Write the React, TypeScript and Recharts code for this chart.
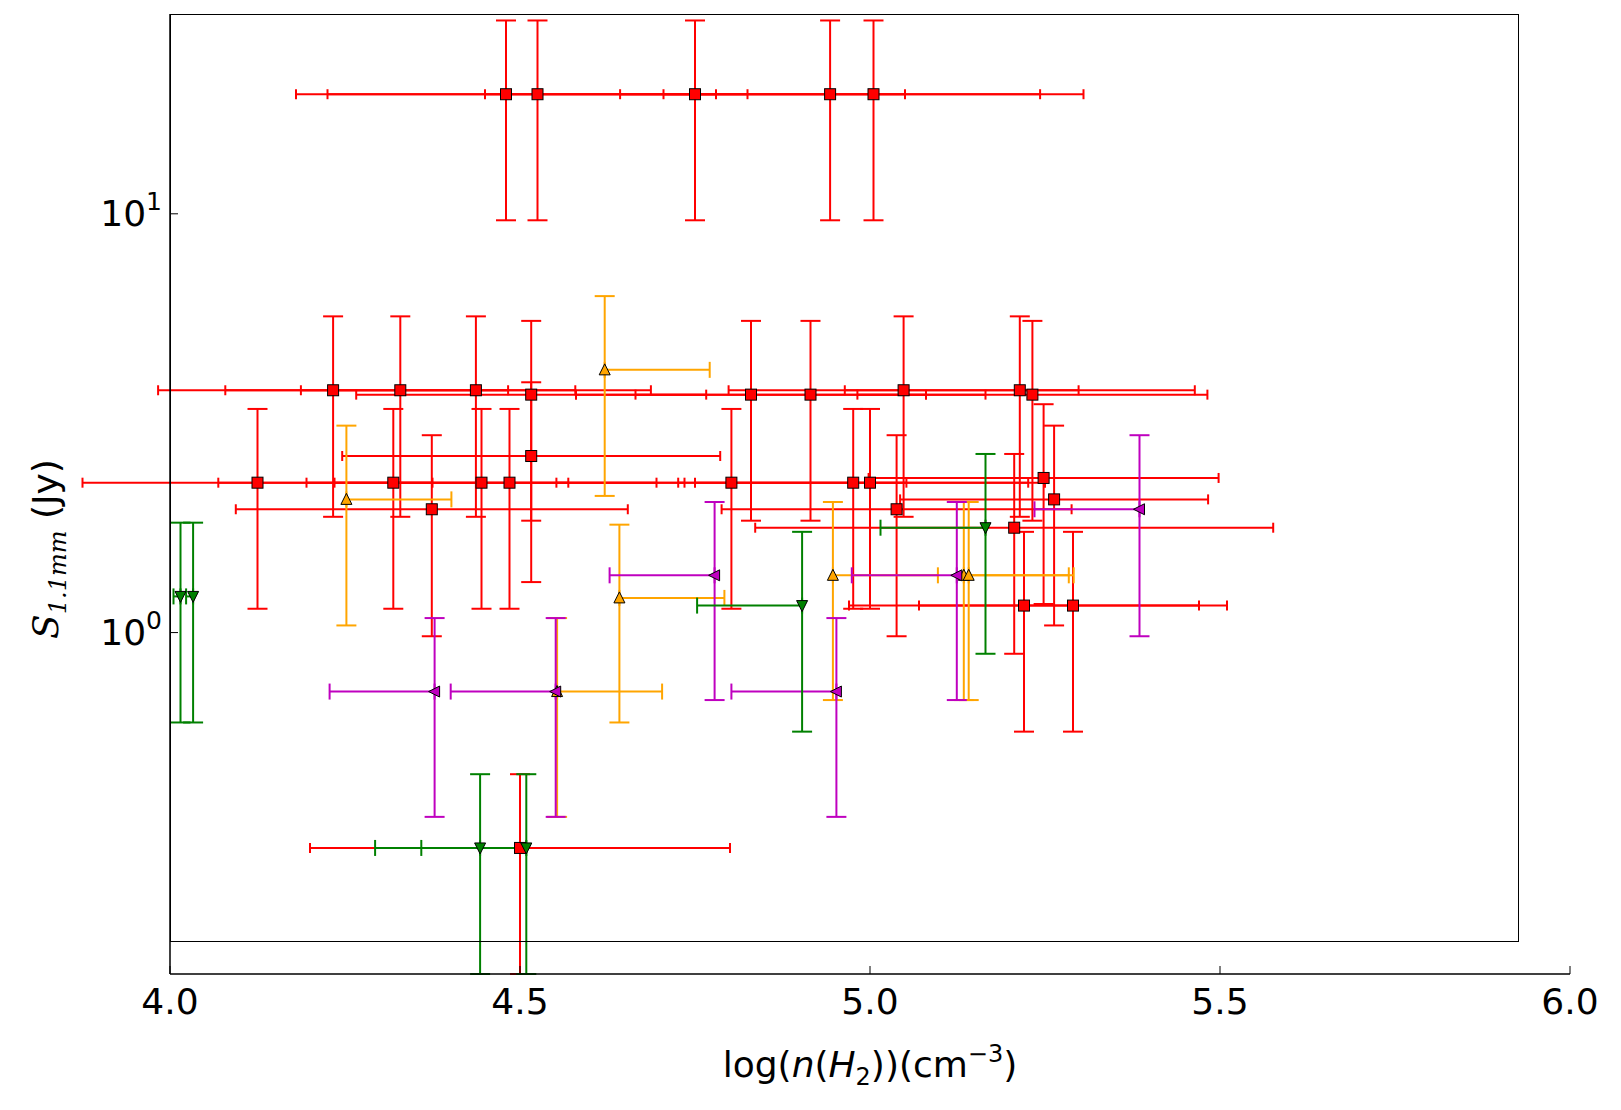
import React from "react";
import { ScatterChart, Scatter, XAxis, YAxis, ErrorBar, Label } from "recharts";

const redX = [4.48, 4.525, 4.75, 4.943, 5.005, 4.233, 4.329, 4.437, 4.516, 4.83, 4.915, 5.048, 5.214, 5.232, 4.125, 4.319, 4.445, 4.485, 4.802, 4.976, 5.0, 4.516, 4.374, 5.038, 5.248, 5.263, 5.206, 5.22, 5.29, 4.5];
const redY = [19.3, 19.3, 19.3, 19.3, 19.3, 3.79, 3.79, 3.79, 3.7, 3.7, 3.7, 3.79, 3.79, 3.7, 2.28, 2.28, 2.28, 2.28, 2.28, 2.28, 2.28, 2.64, 1.97, 1.97, 2.34, 2.08, 1.78, 1.16, 1.16, 0.306];
const redXErr = [0.3, 0.3, 0.3, 0.3, 0.3, 0.25, 0.25, 0.25, 0.25, 0.25, 0.25, 0.25, 0.25, 0.25, 0.25, 0.25, 0.25, 0.25, 0.25, 0.25, 0.25, 0.27, 0.28, 0.25, 0.25, 0.22, 0.37, 0.25, 0.22, 0.3];
const redYErr = [9.65, 9.65, 9.65, 9.65, 9.65, 1.9, 1.9, 1.9, 1.85, 1.85, 1.85, 1.9, 1.9, 1.85, 1.14, 1.14, 1.14, 1.14, 1.14, 1.14, 1.14, 1.32, 0.99, 0.99, 1.17, 1.04, 0.89, 0.58, 0.58, 0.153];

const orangeX = [4.621, 4.252, 4.642, 4.553, 4.947, 5.134, 5.141];
const orangeY = [4.24, 2.08, 1.21, 0.723, 1.37, 1.37, 1.37];
const orangeYErr = [2.12, 1.04, 0.6, 0.36, 0.68, 0.68, 0.68];
const orangeArrow = [0.15, 0.15, 0.15, 0.15, 0.15, 0.15, 0.15];

const magX = [4.378, 4.551, 4.778, 4.952, 5.124, 5.385];
const magY = [0.723, 0.723, 1.37, 0.723, 1.37, 1.97];
const magYErr = [0.36, 0.36, 0.68, 0.36, 0.68, 0.99];
const magArrow = [0.15, 0.15, 0.15, 0.15, 0.15, 0.15];

const greenX = [4.015, 4.033, 4.443, 4.509, 4.903, 5.165];
const greenY = [1.22, 1.22, 0.306, 0.306, 1.16, 1.78];
const greenYErr = [0.61, 0.61, 0.153, 0.153, 0.58, 0.89];
const greenArrow = [0.01, 0.01, 0.15, 0.15, 0.15, 0.15];

const xTicks = [4.0, 4.5, 5.0, 5.5, 6.0];
const yTicks = [1, 10];

const red = redX.map((x, i) => ({ x, y: redY[i], ex: redXErr[i], ey: redYErr[i] }));
const orange = orangeX.map((x, i) => ({ x, y: orangeY[i], ex: [0, orangeArrow[i]], ey: orangeYErr[i] }));
const mag = magX.map((x, i) => ({ x, y: magY[i], ex: [magArrow[i], 0], ey: magYErr[i] }));
const green = greenX.map((x, i) => ({ x, y: greenY[i], ex: [greenArrow[i], 0], ey: greenYErr[i] }));

const Square = (p: any) => <rect x={p.cx - 5.5} y={p.cy - 5.5} width={11} height={11} fill="#ff0000" stroke="#000" strokeWidth={1} />;
const TriUp = (p: any) => <polygon points={`${p.cx},${p.cy - 6} ${p.cx - 5.5},${p.cy + 5} ${p.cx + 5.5},${p.cy + 5}`} fill="orange" stroke="#000" strokeWidth={1} />;
const TriLeft = (p: any) => <polygon points={`${p.cx - 6},${p.cy} ${p.cx + 5},${p.cy - 5.5} ${p.cx + 5},${p.cy + 5.5}`} fill="#bf00bf" stroke="#000" strokeWidth={1} />;
const TriDown = (p: any) => <polygon points={`${p.cx},${p.cy + 6} ${p.cx - 5.5},${p.cy - 5} ${p.cx + 5.5},${p.cy - 5}`} fill="green" stroke="#000" strokeWidth={1} />;

const YTick = (p: any) => {
  const v = p.payload.value;
  return (
    <text x={p.x - 14} y={p.y + 12} textAnchor="end" fontSize={36} fill="#000">
      10<tspan dy={-16} fontSize={25}>{v >= 10 ? "1" : "0"}</tspan>
    </text>
  );
};

const font = "DejaVu Sans, sans-serif";

export default function App() {
  return (
    <div style={{ fontFamily: font, position: "relative", width: 1605, height: 1094 }}>
      <ScatterChart width={1605} height={1094} margin={{ top: 6, right: 43, bottom: 0, left: 0 }}>
        <XAxis type="number" dataKey="x" domain={[4, 6]} ticks={xTicks} tickFormatter={(v: number) => v.toFixed(1)} tick={{ fontSize: 36, fill: "#000", dy: 20 }} tickSize={-8} axisLine={{ stroke: "#000", strokeWidth: 1.5 }} tickLine={{ stroke: "#000" }} height={128} allowDataOverflow>
          <Label content={(props: any) => {
            const vb = props.viewBox;
            return (
              <text x={vb.x + vb.width / 2} y={vb.y + 103} textAnchor="middle" fontSize={36} fill="#000">
                log(<tspan fontStyle="italic">n</tspan>(<tspan fontStyle="italic">H</tspan><tspan fontSize={24} dy={8}>2</tspan><tspan dy={-8}>))(cm</tspan><tspan fontSize={24} dy={-15}>−3</tspan><tspan dy={15}>)</tspan>
              </text>
            );
          }} />
        </XAxis>
        <XAxis xAxisId="top" orientation="top" type="number" dataKey="x" domain={[4, 6]} ticks={xTicks} tick={false} tickSize={-8} axisLine={{ stroke: "#000", strokeWidth: 1.5 }} tickLine={{ stroke: "#000" }} height={0} />
        <YAxis type="number" dataKey="y" scale="log" domain={[0.153, 30]} ticks={yTicks} tick={<YTick />} tickSize={-8} axisLine={{ stroke: "#000", strokeWidth: 1.5 }} tickLine={{ stroke: "#000" }} width={162} allowDataOverflow>
          <Label content={(props: any) => {
            const vb = props.viewBox;
            const cx = 50, cy = vb.y + vb.height / 2 + 55;
            return (
              <text x={cx} y={cy} transform={`rotate(-90 ${cx} ${cy})`} textAnchor="middle" fontSize={36} fill="#000">
                <tspan fontStyle="italic" fontFamily="DejaVu Serif, serif">S</tspan><tspan fontSize={24} dy={8} fontStyle="italic" fontFamily="DejaVu Serif, serif">1.1mm</tspan><tspan dy={-8}> (Jy)</tspan>
              </text>
            );
          }} />
        </YAxis>
        <YAxis yAxisId="right" orientation="right" type="number" dataKey="y" scale="log" domain={[0.153, 30]} ticks={yTicks} tick={false} tickSize={-8} axisLine={{ stroke: "#000", strokeWidth: 1.5 }} tickLine={{ stroke: "#000" }} width={0} allowDataOverflow />
        <Scatter data={red} shape={Square} isAnimationActive={false}>
          <ErrorBar dataKey="ex" direction="x" stroke="#ff0000" strokeWidth={2} width={5} />
          <ErrorBar dataKey="ey" direction="y" stroke="#ff0000" strokeWidth={2} width={10} />
        </Scatter>
        <Scatter data={orange} shape={TriUp} isAnimationActive={false}>
          <ErrorBar dataKey="ex" direction="x" stroke="orange" strokeWidth={2} width={8} />
          <ErrorBar dataKey="ey" direction="y" stroke="orange" strokeWidth={2} width={10} />
        </Scatter>
        <Scatter data={mag} shape={TriLeft} isAnimationActive={false}>
          <ErrorBar dataKey="ex" direction="x" stroke="#bf00bf" strokeWidth={2} width={8} />
          <ErrorBar dataKey="ey" direction="y" stroke="#bf00bf" strokeWidth={2} width={10} />
        </Scatter>
        <Scatter data={green} shape={TriDown} isAnimationActive={false}>
          <ErrorBar dataKey="ex" direction="x" stroke="green" strokeWidth={2} width={8} />
          <ErrorBar dataKey="ey" direction="y" stroke="green" strokeWidth={2} width={10} />
        </Scatter>
      </ScatterChart>
      <div style={{ position: "absolute", left: 162, top: 6, width: 1349, height: 928, border: "1.5px solid #000", boxSizing: "border-box", pointerEvents: "none" }} />
    </div>
  );
}
